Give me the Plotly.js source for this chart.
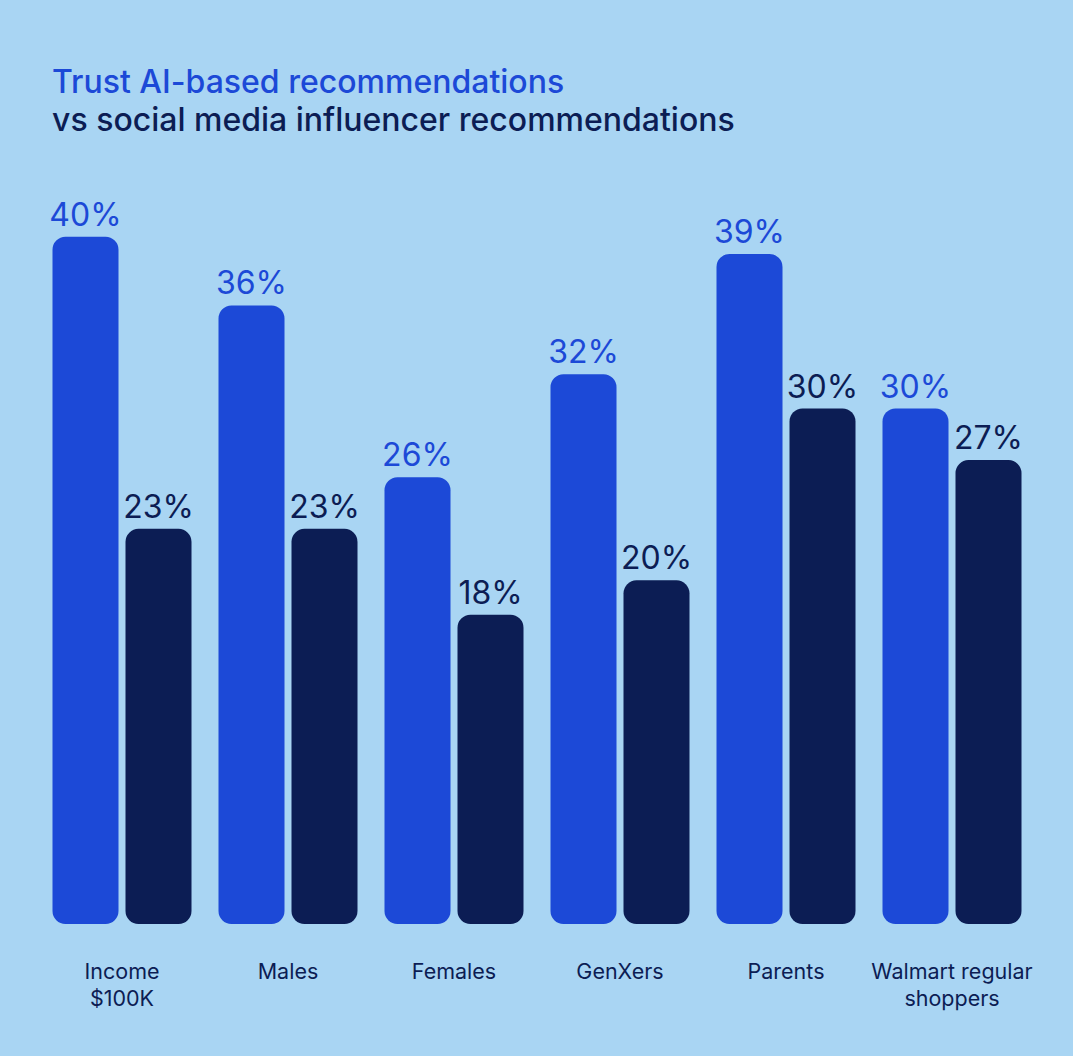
<!DOCTYPE html>
<html>
<head>
<meta charset="utf-8">
<script src="https://cdn.plot.ly/plotly-3.0.1.min.js"></script>
<style>
  html, body { margin: 0; padding: 0; background: #a9d5f3; }
  #chart { width: 1073px; height: 1056px; }
</style>
</head>
<body>
<div id="chart"></div>
<script>
// Share of each group trusting each recommendation source (%)
const categories = ['Income<br>$100K', 'Males', 'Females', 'GenXers', 'Parents', 'Walmart regular<br>shoppers'];
const aiValues = [40, 36, 26, 32, 39, 30];
const influencerValues = [23, 23, 18, 20, 30, 27];

const BLUE = '#1c49d7';
const NAVY = '#0c1d54';
const BG = '#a9d5f3';
const FONT = 'Inter, "Noto Sans", sans-serif';

// An explicit base makes Plotly round both ends of each bar.
function barTrace(values, color, offset, name) {
  return {
    type: 'bar',
    name: name,
    x: categories,
    y: values,
    base: values.map(() => 0),
    offset: offset,
    width: 0.3976,
    marker: { color: color, line: { width: 0 } },
    text: values.map(v => v + '%'),
    textposition: 'outside',
    textfont: { family: FONT, size: 32, color: color },
    constraintext: 'none',
    cliponaxis: false,
    hovertemplate: '%{text}<extra>' + name + '</extra>'
  };
}

const data = [
  barTrace(aiValues, BLUE, -0.4187, 'AI-based'),
  barTrace(influencerValues, NAVY, 0.0211, 'Social media influencer')
];

const layout = {
  width: 1073,
  height: 1056,
  paper_bgcolor: BG,
  plot_bgcolor: BG,
  showlegend: false,
  barmode: 'overlay',
  barcornerradius: 13,
  margin: { l: 39, r: 38, t: 168, b: 132 },
  annotations: [
    {
      text: 'Trust AI-based recommendations',
      xref: 'paper', yref: 'paper', x: 0.011, y: 1.1138,
      xanchor: 'left', yanchor: 'middle', showarrow: false,
      font: { family: FONT, size: 32, weight: 500, color: BLUE }
    },
    {
      text: 'vs social media influencer recommendations',
      xref: 'paper', yref: 'paper', x: 0.011, y: 1.0635,
      xanchor: 'left', yanchor: 'middle', showarrow: false,
      font: { family: FONT, size: 32, weight: 500, color: NAVY }
    }
  ],
  xaxis: {
    type: 'category',
    range: [-0.5, 5.5],
    showgrid: false, zeroline: false, showline: false,
    ticks: '',
    tickfont: { family: FONT, size: 21.5, color: NAVY },
    ticklabelstandoff: 32,
    fixedrange: true
  },
  yaxis: {
    range: [0, 44],
    showgrid: false, zeroline: false, showline: false,
    showticklabels: false,
    ticks: '',
    fixedrange: true
  }
};

Plotly.newPlot('chart', data, layout, { displayModeBar: false, staticPlot: true });
</script>
</body>
</html>
